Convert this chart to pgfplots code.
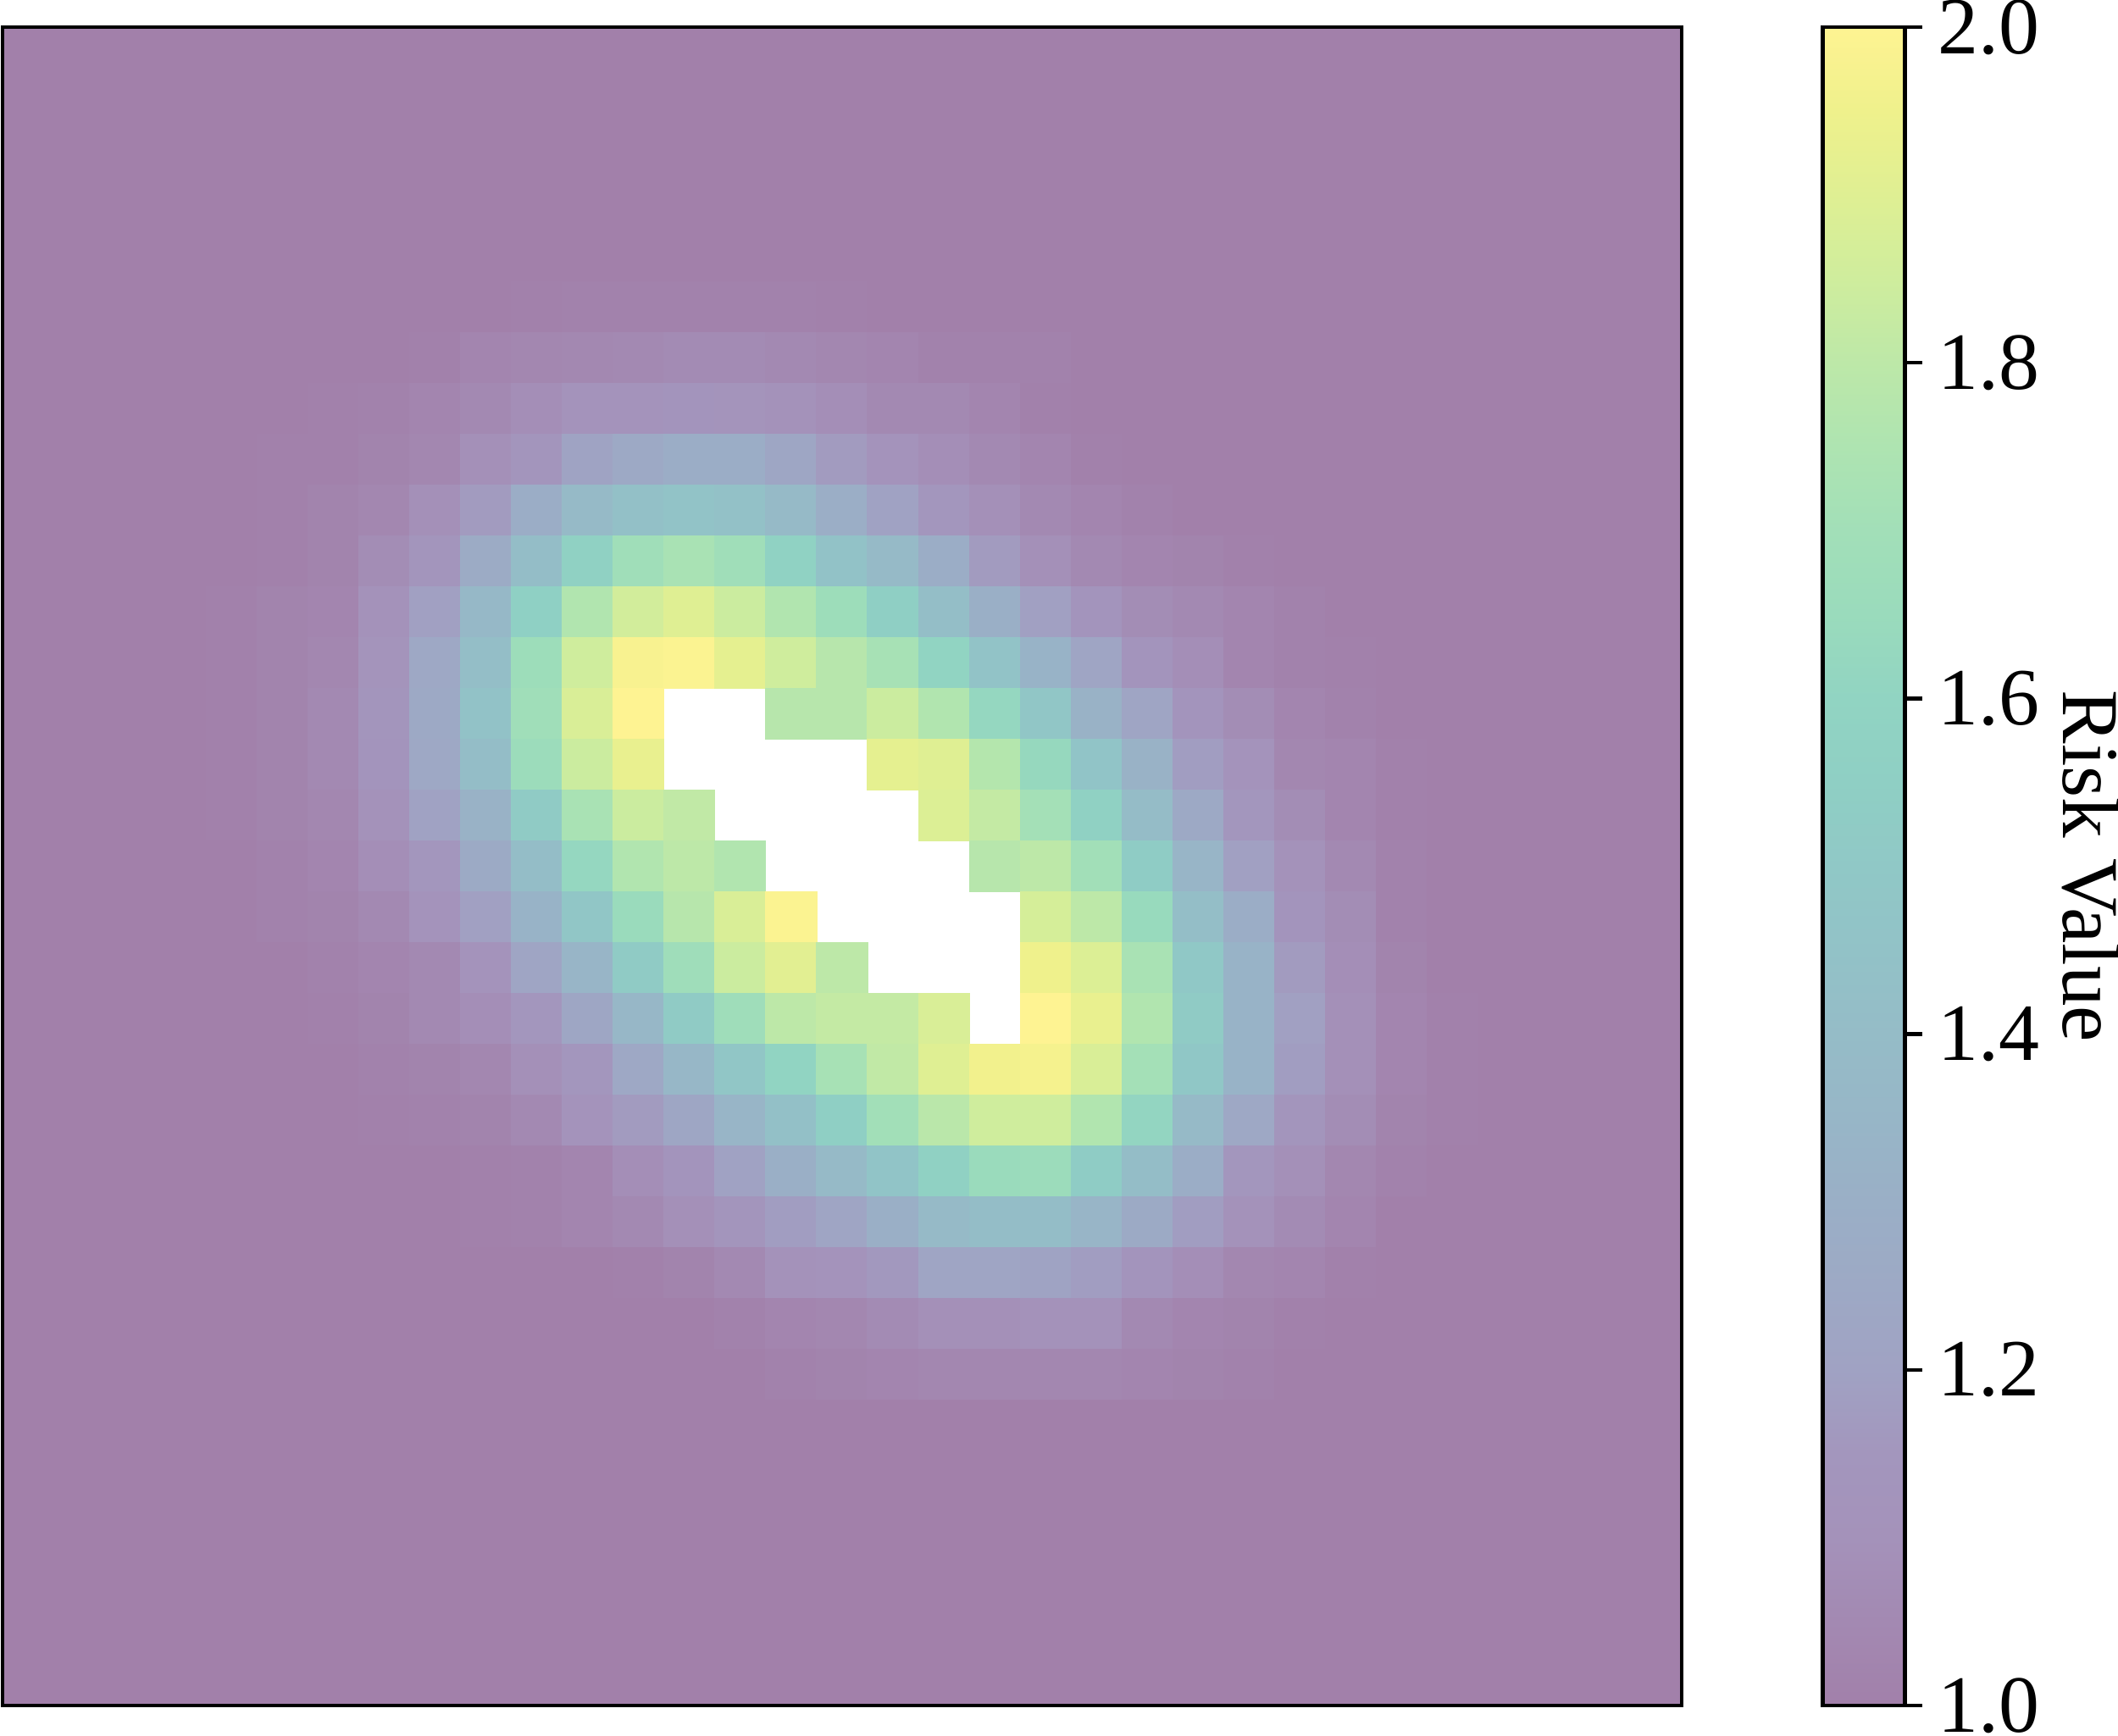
\documentclass[border=0pt]{standalone}
\usepackage{fontspec}
\setmainfont{Liberation Serif}
\usepackage{pgfplots}
\pgfplotsset{compat=1.18}
\pgfplotsset{colormap={viola}{rgb255=(162,128,170) rgb255=(163,137,178) rgb255=(164,146,186) rgb255=(163,150,189) rgb255=(160,162,195) rgb255=(157,169,197) rgb255=(154,175,198) rgb255=(151,182,199) rgb255=(149,188,199) rgb255=(146,194,199) rgb255=(144,200,198) rgb255=(143,207,196) rgb255=(145,212,194) rgb255=(154,219,188) rgb255=(162,223,184) rgb255=(174,228,177) rgb255=(189,232,168) rgb255=(207,237,157) rgb255=(223,239,147) rgb255=(239,241,140) rgb255=(254,243,146)}}
\begin{document}
\begin{tikzpicture}
\path[use as bounding box] (0,0) rectangle (900pt,737.28pt);
\begin{axis}[
  at={(1.08pt,12.6pt)}, anchor=south west,
  scale only axis, width=713.5pt, height=713.2pt,
  xmin=-0.5, xmax=32.5, ymin=-0.5, ymax=32.5, y dir=reverse,
  xtick=\empty, ytick=\empty,
  axis on top,
  axis line style={line width=1.6pt},
  colormap name=viola,
  point meta min=1, point meta max=2,
  unbounded coords=jump,
  colorbar,
  colorbar/width=34.9pt,
  colorbar style={
    at={(parent axis.north east)}, anchor=north west, xshift=51.5pt,
    scale only axis, height=713.2pt,
    ytick={1,1.2,1.4,1.6,1.8,2},
    ymin=1, ymax=2,
    ytick pos=right, yticklabel pos=right,
    tick align=outside,
    major tick length=7.2pt,
    ytick style={line width=1.6pt, black},
    axis on top,
    axis line style={line width=1.6pt},
    y dir=normal,
    yticklabel={\pgfmathprintnumber[assume math mode=true,fixed,fixed zerofill,precision=1]{\tick}},
    yticklabel style={font=\fontsize{34.5}{40}\selectfont, xshift=3.3pt},
    ylabel={Risk Value},
    ylabel style={font=\fontsize{34.3}{40}\selectfont, rotate=180, at={(axis description cs:3.26,0.5)}, anchor=center},
  },
]
\addplot[matrix plot*, mesh/cols=33, mesh/rows=33, point meta=explicit]
 table[row sep=crcr, header=false, x expr={round(mod(\coordindex,33))}, y expr={floor((\coordindex+0.5)/33)}, meta index=0] {
1\\1\\1\\1\\1\\1\\1\\1\\1\\1\\1\\1\\1\\1\\1\\1\\1\\1\\1\\1\\1\\1\\1\\1\\1\\1\\1\\1\\1\\1\\1\\1\\1\\
1\\1\\1\\1\\1\\1\\1\\1\\1\\1\\1\\1\\1\\1\\1\\1\\1\\1\\1\\1\\1\\1\\1\\1\\1\\1\\1\\1\\1\\1\\1\\1\\1\\
1\\1\\1\\1\\1\\1\\1\\1\\1\\1\\1\\1\\1\\1\\1\\1\\1\\1\\1\\1\\1\\1\\1\\1\\1\\1\\1\\1\\1\\1\\1\\1\\1\\
1\\1\\1\\1\\1\\1\\1\\1\\1\\1\\1\\1\\1\\1\\1\\1\\1\\1\\1\\1\\1\\1\\1\\1\\1\\1\\1\\1\\1\\1\\1\\1\\1\\
1\\1\\1\\1\\1\\1\\1\\1\\1\\1\\1\\1\\1\\1\\1\\1\\1\\1\\1\\1\\1\\1\\1\\1\\1\\1\\1\\1\\1\\1\\1\\1\\1\\
1\\1\\1\\1\\1\\1\\1\\1\\1\\1\\1.008\\1.012\\1.012\\1.012\\1.012\\1.012\\1.008\\1\\1\\1\\1\\1\\1\\1\\1\\1\\1\\1\\1\\1\\1\\1\\1\\
1\\1\\1\\1\\1\\1\\1\\1\\1.005\\1.03\\1.04\\1.045\\1.05\\1.06\\1.06\\1.05\\1.04\\1.03\\1.01\\1.01\\1.01\\1\\1\\1\\1\\1\\1\\1\\1\\1\\1\\1\\1\\
1\\1\\1\\1\\1\\1\\1.005\\1.01\\1.03\\1.05\\1.08\\1.11\\1.11\\1.13\\1.12\\1.10\\1.08\\1.05\\1.05\\1.03\\1.005\\1\\1\\1\\1\\1\\1\\1\\1\\1\\1\\1\\1\\
1\\1\\1\\1\\1\\1.005\\1.005\\1.02\\1.04\\1.09\\1.14\\1.21\\1.25\\1.28\\1.28\\1.23\\1.17\\1.11\\1.08\\1.05\\1.03\\1.005\\1\\1\\1\\1\\1\\1\\1\\1\\1\\1\\1\\
1\\1\\1\\1\\1\\1.005\\1.02\\1.04\\1.09\\1.17\\1.28\\1.38\\1.43\\1.46\\1.44\\1.38\\1.29\\1.20\\1.15\\1.09\\1.05\\1.03\\1.01\\1\\1\\1\\1\\1\\1\\1\\1\\1\\1\\
1\\1\\1\\1\\1\\1.005\\1.02\\1.07\\1.14\\1.27\\1.41\\1.57\\1.69\\1.73\\1.69\\1.58\\1.45\\1.38\\1.28\\1.17\\1.09\\1.05\\1.03\\1.02\\1.005\\1\\1\\1\\1\\1\\1\\1\\1\\
1\\1\\1\\1\\1.005\\1.02\\1.03\\1.10\\1.19\\1.37\\1.56\\1.76\\1.86\\1.90\\1.84\\1.76\\1.67\\1.55\\1.42\\1.30\\1.19\\1.13\\1.07\\1.05\\1.03\\1.01\\1\\1\\1\\1\\1\\1\\1\\
1\\1\\1\\1\\1.005\\1.02\\1.04\\1.12\\1.24\\1.42\\1.67\\1.85\\1.98\\1.99\\1.92\\1.85\\1.78\\1.72\\1.60\\1.46\\1.33\\1.22\\1.13\\1.08\\1.03\\1.01\\1.005\\1\\1\\1\\1\\1\\1\\
1\\1\\1\\1\\1.005\\1.02\\1.05\\1.14\\1.25\\1.45\\1.69\\1.88\\2.00\\nan\\nan\\1.78\\1.78\\1.84\\1.76\\1.62\\1.48\\1.32\\1.22\\1.13\\1.07\\1.03\\1.01\\1\\1\\1\\1\\1\\1\\
1\\1\\1\\1\\1.005\\1.02\\1.05\\1.13\\1.24\\1.41\\1.66\\1.84\\1.93\\nan\\nan\\nan\\nan\\1.92\\1.90\\1.77\\1.63\\1.47\\1.32\\1.18\\1.11\\1.04\\1.03\\1.005\\1\\1\\1\\1\\1\\
1\\1\\1\\1\\1.005\\1.02\\1.04\\1.10\\1.20\\1.32\\1.52\\1.73\\1.84\\1.81\\nan\\nan\\nan\\nan\\1.89\\1.82\\1.71\\1.57\\1.40\\1.25\\1.15\\1.07\\1.03\\1.005\\1\\1\\1\\1\\1\\
1\\1\\1\\1\\1\\1.01\\1.03\\1.08\\1.15\\1.26\\1.41\\1.62\\1.76\\1.80\\1.76\\nan\\nan\\nan\\nan\\1.78\\1.80\\1.70\\1.53\\1.34\\1.19\\1.10\\1.05\\1.01\\1\\1\\1\\1\\1\\
1\\1\\1\\1\\1\\1.01\\1.02\\1.05\\1.11\\1.19\\1.33\\1.48\\1.65\\1.78\\1.88\\1.99\\nan\\nan\\nan\\nan\\1.87\\1.80\\1.64\\1.42\\1.28\\1.13\\1.07\\1.01\\1\\1\\1\\1\\1\\
1\\1\\1\\1\\1\\1\\1.01\\1.03\\1.05\\1.11\\1.22\\1.34\\1.52\\1.68\\1.84\\1.91\\1.80\\nan\\nan\\nan\\1.95\\1.89\\1.73\\1.50\\1.33\\1.17\\1.08\\1.02\\1\\1\\1\\1\\1\\
1\\1\\1\\1\\1\\1\\1.005\\1.02\\1.05\\1.08\\1.15\\1.23\\1.36\\1.52\\1.68\\1.80\\1.82\\1.82\\1.88\\nan\\2.00\\1.93\\1.76\\1.52\\1.33\\1.19\\1.09\\1.03\\1.005\\1\\1\\1\\1\\
1\\1\\1\\1\\1\\1\\1\\1.01\\1.02\\1.04\\1.09\\1.15\\1.24\\1.36\\1.48\\1.60\\1.72\\1.81\\1.90\\1.96\\1.97\\1.88\\1.71\\1.49\\1.33\\1.18\\1.09\\1.03\\1.005\\1\\1\\1\\1\\
1\\1\\1\\1\\1\\1\\1\\1.005\\1.01\\1.02\\1.05\\1.11\\1.17\\1.23\\1.34\\1.43\\1.55\\1.70\\1.79\\1.85\\1.85\\1.76\\1.61\\1.38\\1.24\\1.14\\1.07\\1.02\\1.005\\1\\1\\1\\1\\
1\\1\\1\\1\\1\\1\\1\\1\\1\\1.005\\1.01\\1.03\\1.08\\1.13\\1.20\\1.30\\1.38\\1.47\\1.57\\1.65\\1.66\\1.53\\1.41\\1.28\\1.15\\1.09\\1.04\\1.01\\1\\1\\1\\1\\1\\
1\\1\\1\\1\\1\\1\\1\\1\\1\\1.005\\1.01\\1.03\\1.05\\1.09\\1.14\\1.18\\1.22\\1.30\\1.38\\1.41\\1.41\\1.34\\1.26\\1.18\\1.10\\1.06\\1.03\\1\\1\\1\\1\\1\\1\\
1\\1\\1\\1\\1\\1\\1\\1\\1\\1\\1\\1\\1.005\\1.02\\1.05\\1.10\\1.11\\1.16\\1.22\\1.22\\1.21\\1.18\\1.13\\1.08\\1.04\\1.03\\1.005\\1\\1\\1\\1\\1\\1\\
1\\1\\1\\1\\1\\1\\1\\1\\1\\1\\1\\1\\1\\1\\1.01\\1.03\\1.04\\1.06\\1.09\\1.09\\1.10\\1.10\\1.05\\1.03\\1.02\\1.005\\1\\1\\1\\1\\1\\1\\1\\
1\\1\\1\\1\\1\\1\\1\\1\\1\\1\\1\\1\\1\\1\\1\\1.01\\1.02\\1.03\\1.04\\1.04\\1.04\\1.04\\1.03\\1.02\\1.01\\1\\1\\1\\1\\1\\1\\1\\1\\
1\\1\\1\\1\\1\\1\\1\\1\\1\\1\\1\\1\\1\\1\\1\\1\\1\\1\\1\\1\\1\\1\\1\\1\\1\\1\\1\\1\\1\\1\\1\\1\\1\\
1\\1\\1\\1\\1\\1\\1\\1\\1\\1\\1\\1\\1\\1\\1\\1\\1\\1\\1\\1\\1\\1\\1\\1\\1\\1\\1\\1\\1\\1\\1\\1\\1\\
1\\1\\1\\1\\1\\1\\1\\1\\1\\1\\1\\1\\1\\1\\1\\1\\1\\1\\1\\1\\1\\1\\1\\1\\1\\1\\1\\1\\1\\1\\1\\1\\1\\
1\\1\\1\\1\\1\\1\\1\\1\\1\\1\\1\\1\\1\\1\\1\\1\\1\\1\\1\\1\\1\\1\\1\\1\\1\\1\\1\\1\\1\\1\\1\\1\\1\\
1\\1\\1\\1\\1\\1\\1\\1\\1\\1\\1\\1\\1\\1\\1\\1\\1\\1\\1\\1\\1\\1\\1\\1\\1\\1\\1\\1\\1\\1\\1\\1\\1\\
1\\1\\1\\1\\1\\1\\1\\1\\1\\1\\1\\1\\1\\1\\1\\1\\1\\1\\1\\1\\1\\1\\1\\1\\1\\1\\1\\1\\1\\1\\1\\1\\1\\
};
\end{axis}
\end{tikzpicture}
\end{document}
